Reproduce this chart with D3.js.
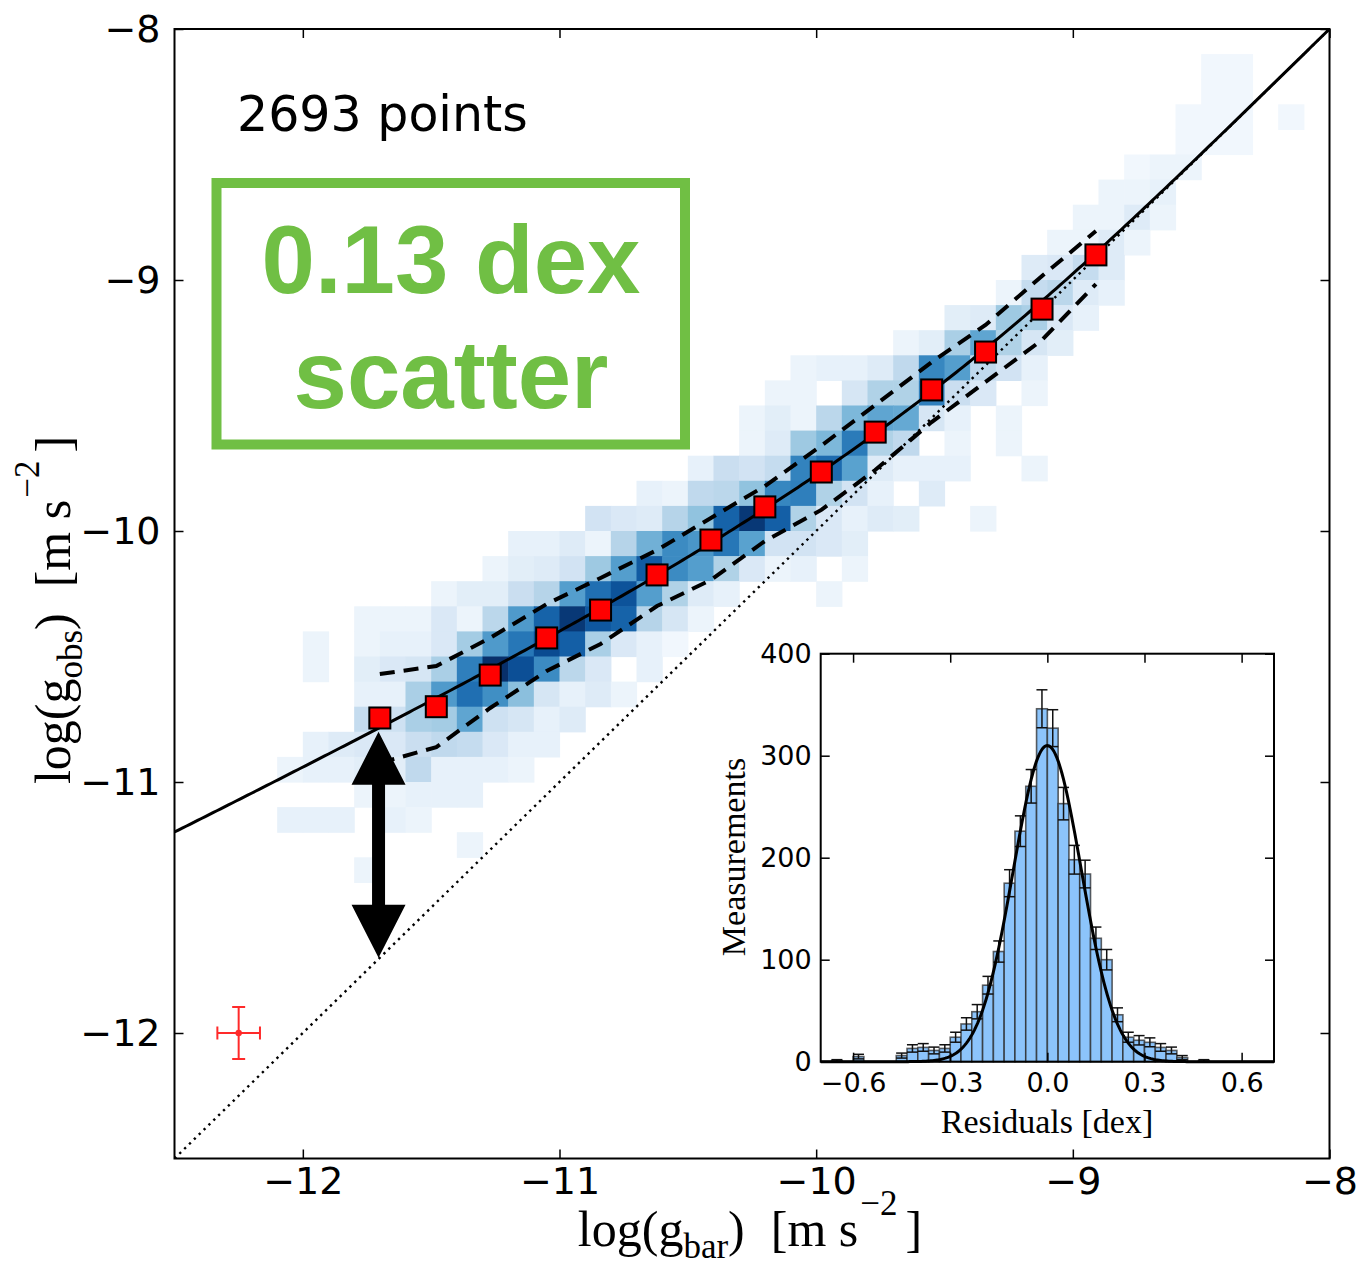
<!DOCTYPE html>
<html>
<head>
<meta charset="utf-8">
<script src="https://cdn.jsdelivr.net/npm/d3@7"></script>
<style>
  body { margin: 0; background: #fff; }
  svg text { font-family: "DejaVu Sans", sans-serif; }
  svg text.serif { font-family: "Liberation Serif", "DejaVu Serif", serif; }
</style>
</head>
<body>
<div id="chart"></div>
<script>
// ---- data ----
// 2D histogram, 0.1 dex bins: [lower y edge, left x edge of first cell, counts]
var heatRows = [
  [-8.2, -8.5, [1, 1]],
  [-8.3, -8.5, [1, 1]],
  [-8.4, -8.6, [1, 1, 1, 0, 1]],
  [-8.5, -8.6, [1, 1, 1]],
  [-8.6, -8.8, [1, 2, 2]],
  [-8.7, -8.9, [2, 2, 3]],
  [-8.8, -9.0, [2, 2, 5, 2]],
  [-8.9, -9.1, [2, 2, 5, 2]],
  [-9.0, -9.2, [5, 6, 11, 5]],
  [-9.1, -9.3, [2, 11, 13, 5, 3]],
  [-9.2, -9.5, [4, 5, 18, 16, 6, 3]],
  [-9.3, -9.7, [2, 4, 16, 28, 15, 7, 4]],
  [-9.4, -10.1, [2, 3, 3, 5, 12, 36, 30, 12, 8, 3]],
  [-9.5, -10.2, [2, 2, 0, 7, 15, 15, 38, 10, 6, 0, 2]],
  [-9.6, -10.3, [2, 4, 2, 13, 23, 28, 27, 7, 3, 0, 2]],
  [-9.7, -10.3, [2, 5, 18, 23, 39, 15, 12, 0, 2, 0, 2]],
  [-9.8, -10.5, [3, 10, 8, 11, 37, 43, 29, 5, 3, 3, 3, 0, 0, 2]],
  [-9.9, -10.7, [3, 2, 12, 13, 20, 36, 38, 15, 8, 3, 0, 5]],
  [-10.0, -10.9, [8, 6, 5, 14, 20, 45, 56, 46, 15, 6, 3, 5, 4, 0, 0, 2]],
  [-10.1, -11.2, [3, 3, 5, 2, 14, 25, 35, 32, 40, 29, 8, 8, 6, 4]],
  [-10.2, -11.3, [2, 4, 5, 8, 18, 30, 47, 35, 30, 15, 6, 2, 3, 0, 2]],
  [-10.3, -11.5, [2, 4, 4, 10, 14, 30, 42, 49, 30, 15, 5, 3, 0, 0, 0, 2]],
  [-10.4, -11.8, [2, 2, 2, 6, 2, 13, 31, 45, 56, 48, 45, 14, 7, 2]],
  [-10.5, -12.0, [2, 0, 2, 3, 3, 6, 17, 31, 40, 51, 46, 16, 6, 3, 1]],
  [-10.6, -12.0, [2, 0, 4, 6, 7, 16, 38, 58, 50, 35, 13, 6, 0, 3]],
  [-10.7, -11.8, [3, 3, 16, 31, 42, 34, 21, 7, 3, 5, 2]],
  [-10.8, -11.8, [11, 9, 16, 17, 28, 9, 7, 3, 5]],
  [-10.9, -12.0, [3, 5, 6, 6, 10, 12, 11, 6, 3, 3]],
  [-11.0, -12.1, [2, 3, 3, 4, 4, 12, 3, 3, 3, 2]],
  [-11.1, -11.8, [2, 2, 3, 3, 3]],
  [-11.2, -12.1, [3, 3, 3, 0, 3, 2]],
  [-11.3, -11.4, [2]],
  [-11.4, -11.8, [2]]
];
var heatBin = 0.1;

// binned means (red squares) and the +/- scatter band (dashed)
var binX     = [-11.70, -11.48, -11.27, -11.05, -10.84, -10.62, -10.41, -10.20, -9.98, -9.77, -9.55, -9.34, -9.12, -8.91];
var binMean  = [-10.745, -10.700, -10.574, -10.426, -10.315, -10.175, -10.036, -9.904, -9.765, -9.606, -9.438, -9.287, -9.116, -8.900];
var bandHigh = [-10.570, -10.538, -10.426, -10.291, -10.187, -10.076, -9.948, -9.821, -9.660, -9.498, -9.327, -9.179, -8.984, -8.805];
var bandLow  = [-10.924, -10.861, -10.705, -10.558, -10.450, -10.299, -10.195, -10.040, -9.916, -9.757, -9.566, -9.406, -9.239, -9.016];

// fitted relation g_obs = g_bar / (1 - exp(-sqrt(g_bar/g_dagger)))
var gDagger = 1.2e-10;
var oneToOne = [-12.5, -8];

// double arrow and typical error bar
var arrowX = -11.705, arrowTop = -10.80, arrowBottom = -11.70;
var errPoint = [-12.25, -12.0], errSize = [0.083, 0.104];

// residual histogram (inset)
var histStart = -0.7, histWidth = 1 / 30;
var histCounts = [0, 1, 0, 5, 0, 0, 0, 6, 13, 14, 11, 13, 24, 37, 49, 75, 108, 175, 226, 270, 346,
                  327, 253, 198, 184, 121, 100, 46, 24, 21, 19, 14, 11, 4, 0, 1, 0, 0, 0, 0, 0, 0];
var gaussAmp = 310, gaussMu = 0.0, gaussSigma = 0.105;

var mainTicks = [-12, -11, -10, -9, -8];
var insetXTicks = [-0.6, -0.3, 0.0, 0.3, 0.6];
var insetYTicks = [0, 100, 200, 300, 400];

// ---- drawing ----
var svg = d3.select("#chart").append("svg")
  .attr("width", 1364)
  .attr("height", 1278);

var x = d3.scaleLinear().domain([-12.5, -8]).range([174.5, 1329.5]);
var y = d3.scaleLinear().domain([-12.5, -8]).range([1158.5, 29]);

svg.append("clipPath").attr("id", "clip")
  .append("rect")
  .attr("x", x(-12.5)).attr("y", y(-8))
  .attr("width", x(-8) - x(-12.5)).attr("height", y(-12.5) - y(-8));

var plot = svg.append("g").attr("clip-path", "url(#clip)");

// heatmap cells
var cells = [];
heatRows.forEach(function (r) {
  r[2].forEach(function (n, i) {
    if (n > 0) cells.push({ x0: r[1] + heatBin * i, y0: r[0], n: n });
  });
});
var maxCount = d3.max(cells, function (d) { return d.n; });
var color = d3.scaleSequential(d3.interpolateBlues).domain([0, 1]);

plot.selectAll("rect.cell")
  .data(cells)
  .enter()
  .append("rect")
  .attr("class", "cell")
  .attr("x", function (d) { return x(d.x0); })
  .attr("y", function (d) { return y(d.y0 + heatBin); })
  .attr("width", function (d) { return x(d.x0 + heatBin) - x(d.x0) + 0.6; })
  .attr("height", function (d) { return y(d.y0) - y(d.y0 + heatBin) + 0.6; })
  .attr("fill", function (d) { return color(Math.pow(d.n / maxCount, 0.85)); });

// 1:1 line
plot.append("line")
  .attr("x1", x(oneToOne[0])).attr("y1", y(oneToOne[0]))
  .attr("x2", x(oneToOne[1])).attr("y2", y(oneToOne[1]))
  .attr("stroke", "#000")
  .attr("stroke-width", 2.4)
  .attr("stroke-dasharray", "2.4 4.4");

// fit line
var fitPts = d3.range(0, 301).map(function (i) {
  var lx = -12.5 + i * 4.5 / 300;
  var gb = Math.pow(10, lx);
  return [lx, Math.log10(gb / (1 - Math.exp(-Math.sqrt(gb / gDagger))))];
});
var line = d3.line()
  .x(function (d) { return x(d[0]); })
  .y(function (d) { return y(d[1]); });

plot.append("path")
  .datum(fitPts)
  .attr("d", line)
  .attr("fill", "none")
  .attr("stroke", "#000")
  .attr("stroke-width", 3);

// scatter band
[bandHigh, bandLow].forEach(function (band) {
  plot.append("path")
    .datum(binX.map(function (v, i) { return [v, band[i]]; }))
    .attr("d", line)
    .attr("fill", "none")
    .attr("stroke", "#000")
    .attr("stroke-width", 4)
    .attr("stroke-dasharray", "15 9");
});

// binned means
plot.selectAll("rect.mean")
  .data(binX)
  .enter()
  .append("rect")
  .attr("class", "mean")
  .attr("x", function (d) { return x(d) - 10.5; })
  .attr("y", function (d, i) { return y(binMean[i]) - 10.5; })
  .attr("width", 21)
  .attr("height", 21)
  .attr("fill", "#ff0000")
  .attr("stroke", "#000")
  .attr("stroke-width", 2);

// double headed arrow
var ax = x(arrowX), at = y(arrowTop), ab = y(arrowBottom);
var hh = 53, hw = 27, sw = 6.5;
plot.append("path")
  .attr("d", "M" + ax + "," + at +
    "L" + (ax + hw) + "," + (at + hh) + "L" + (ax + sw) + "," + (at + hh) +
    "L" + (ax + sw) + "," + (ab - hh) + "L" + (ax + hw) + "," + (ab - hh) +
    "L" + ax + "," + ab +
    "L" + (ax - hw) + "," + (ab - hh) + "L" + (ax - sw) + "," + (ab - hh) +
    "L" + (ax - sw) + "," + (at + hh) + "L" + (ax - hw) + "," + (at + hh) + "Z")
  .attr("fill", "#000");

// typical error bar
var ex = x(errPoint[0]), ey = y(errPoint[1]);
var exl = x(errPoint[0] - errSize[0]), exr = x(errPoint[0] + errSize[0]);
var eyt = y(errPoint[1] + errSize[1]), eyb = y(errPoint[1] - errSize[1]);
var errG = plot.append("g").attr("stroke", "#ff2a2a").attr("stroke-width", 2);
errG.append("line").attr("x1", exl).attr("x2", exr).attr("y1", ey).attr("y2", ey);
errG.append("line").attr("x1", ex).attr("x2", ex).attr("y1", eyt).attr("y2", eyb);
errG.append("line").attr("x1", exl).attr("x2", exl).attr("y1", ey - 6.5).attr("y2", ey + 6.5);
errG.append("line").attr("x1", exr).attr("x2", exr).attr("y1", ey - 6.5).attr("y2", ey + 6.5);
errG.append("line").attr("x1", ex - 6.5).attr("x2", ex + 6.5).attr("y1", eyt).attr("y2", eyt);
errG.append("line").attr("x1", ex - 6.5).attr("x2", ex + 6.5).attr("y1", eyb).attr("y2", eyb);
plot.append("circle").attr("cx", ex).attr("cy", ey).attr("r", 3.2).attr("fill", "#ff2a2a");

// annotations
svg.append("text")
  .attr("x", 237)
  .attr("y", 131)
  .attr("font-size", 49)
  .attr("fill", "#000")
  .text("2693 points");

svg.append("rect")
  .attr("x", 216.5).attr("y", 183)
  .attr("width", 468.5).attr("height", 261.5)
  .attr("fill", "none")
  .attr("stroke", "#70bf44")
  .attr("stroke-width", 10);

["0.13 dex", "scatter"].forEach(function (t, i) {
  svg.append("text")
    .attr("x", 451)
    .attr("y", i === 0 ? 293 : 408)
    .attr("text-anchor", "middle")
    .style("font-family", "'Liberation Sans', Arial, sans-serif")
    .attr("font-weight", "bold")
    .attr("font-size", 96)
    .attr("fill", "#70bf44")
    .text(t);
});

// frame and axes
svg.append("rect")
  .attr("x", x(-12.5)).attr("y", y(-8))
  .attr("width", x(-8) - x(-12.5)).attr("height", y(-12.5) - y(-8))
  .attr("fill", "none")
  .attr("stroke", "#000")
  .attr("stroke-width", 2);

function styleAxis(g, size) {
  g.attr("font-family", "'DejaVu Sans', sans-serif").attr("font-size", size);
  g.select(".domain").remove();
  g.selectAll(".tick line").attr("stroke", "#000").attr("stroke-width", 1.5);
  g.selectAll(".tick text").attr("fill", "#000");
}
var noLabel = function () { return ""; };

svg.append("g")
  .attr("transform", "translate(0," + y(-12.5) + ")")
  .call(d3.axisBottom(x).tickValues(mainTicks).tickSize(-9).tickPadding(9).tickFormat(d3.format("d")))
  .call(styleAxis, 38);
svg.append("g")
  .attr("transform", "translate(0," + y(-8) + ")")
  .call(d3.axisTop(x).tickValues(mainTicks).tickSize(-9).tickFormat(noLabel))
  .call(styleAxis, 38);
svg.append("g")
  .attr("transform", "translate(" + x(-12.5) + ",0)")
  .call(d3.axisLeft(y).tickValues(mainTicks).tickSize(-9).tickPadding(14).tickFormat(d3.format("d")))
  .call(styleAxis, 38);
svg.append("g")
  .attr("transform", "translate(" + x(-8) + ",0)")
  .call(d3.axisRight(y).tickValues(mainTicks).tickSize(-9).tickFormat(noLabel))
  .call(styleAxis, 38);

// axis titles: main part, superscript and closing bracket as separate texts
function unitLabel(g, sub) {
  var t = g.append("text").attr("class", "serif").attr("font-size", 50).attr("x", 0).attr("y", 0);
  t.append("tspan").text("log(g");
  t.append("tspan").attr("font-size", 35).attr("dy", 12).text(sub);
  t.append("tspan").attr("dy", -12).text(")");
  t.append("tspan").attr("dx", 26).text("[m s");
  var b = t.node().getBBox();
  var sup = g.append("text").attr("class", "serif").attr("font-size", 35)
    .attr("x", b.x + b.width + 2).attr("y", -31).text("\u22122");
  var bs = sup.node().getBBox();
  var cl = g.append("text").attr("class", "serif").attr("font-size", 50)
    .attr("x", bs.x + bs.width + 8).attr("y", 0).text("]");
  var bc = cl.node().getBBox();
  return bc.x + bc.width;
}
var xl = svg.append("g");
var xw = unitLabel(xl, "bar");
xl.attr("transform", "translate(" + (750 - xw / 2) + ",1246)");
var yl = svg.append("g");
var yw = unitLabel(yl, "obs");
yl.attr("transform", "translate(70,610) rotate(-90) translate(" + (-yw / 2) + ",0)");

// ---- inset histogram ----
var xi = d3.scaleLinear().domain([-0.7, 0.7]).range([820.7, 1274]);
var yi = d3.scaleLinear().domain([0, 400]).range([1061.7, 653.7]);
var inset = svg.append("g");

inset.append("rect")
  .attr("x", xi(-0.7)).attr("y", yi(400))
  .attr("width", xi(0.7) - xi(-0.7)).attr("height", yi(0) - yi(400))
  .attr("fill", "#fff");

var bars = histCounts.map(function (n, i) {
  return { x0: histStart + i * histWidth, x1: histStart + (i + 1) * histWidth, n: n };
}).filter(function (d) { return d.n > 0; });

inset.selectAll("rect.bar")
  .data(bars)
  .enter()
  .append("rect")
  .attr("class", "bar")
  .attr("x", function (d) { return xi(d.x0); })
  .attr("y", function (d) { return yi(d.n); })
  .attr("width", function (d) { return xi(d.x1) - xi(d.x0); })
  .attr("height", function (d) { return yi(0) - yi(d.n); })
  .attr("fill", "#8cc4fb")
  .attr("stroke", "#2b2b2b")
  .attr("stroke-opacity", 0.75)
  .attr("stroke-width", 1.6);

var eb = inset.selectAll("g.eb")
  .data(bars)
  .enter()
  .append("g")
  .attr("class", "eb")
  .attr("stroke", "#111")
  .attr("stroke-width", 1.5);
eb.append("line")
  .attr("x1", function (d) { return xi((d.x0 + d.x1) / 2); })
  .attr("x2", function (d) { return xi((d.x0 + d.x1) / 2); })
  .attr("y1", function (d) { return yi(d.n - Math.sqrt(d.n)); })
  .attr("y2", function (d) { return yi(d.n + Math.sqrt(d.n)); });
[-1, 1].forEach(function (s) {
  eb.append("line")
    .attr("x1", function (d) { return xi((d.x0 + d.x1) / 2) - 5.5; })
    .attr("x2", function (d) { return xi((d.x0 + d.x1) / 2) + 5.5; })
    .attr("y1", function (d) { return yi(d.n + s * Math.sqrt(d.n)); })
    .attr("y2", function (d) { return yi(d.n + s * Math.sqrt(d.n)); });
});

var gaussPts = d3.range(0, 281).map(function (i) {
  var r = -0.7 + i * 1.4 / 280;
  return [r, gaussAmp * Math.exp(-Math.pow(r - gaussMu, 2) / (2 * gaussSigma * gaussSigma))];
});
inset.append("path")
  .datum(gaussPts)
  .attr("d", d3.line().x(function (d) { return xi(d[0]); }).y(function (d) { return yi(d[1]); }))
  .attr("fill", "none")
  .attr("stroke", "#000")
  .attr("stroke-width", 3);

inset.append("rect")
  .attr("x", xi(-0.7)).attr("y", yi(400))
  .attr("width", xi(0.7) - xi(-0.7)).attr("height", yi(0) - yi(400))
  .attr("fill", "none")
  .attr("stroke", "#000")
  .attr("stroke-width", 2);

inset.append("g")
  .attr("transform", "translate(0," + yi(0) + ")")
  .call(d3.axisBottom(xi).tickValues(insetXTicks).tickSize(-9).tickPadding(11).tickFormat(d3.format(".1f")))
  .call(styleAxis, 27);
inset.append("g")
  .attr("transform", "translate(0," + yi(400) + ")")
  .call(d3.axisTop(xi).tickValues(insetXTicks).tickSize(-9).tickFormat(noLabel))
  .call(styleAxis, 27);
inset.append("g")
  .attr("transform", "translate(" + xi(-0.7) + ",0)")
  .call(d3.axisLeft(yi).tickValues(insetYTicks).tickSize(-9).tickPadding(9).tickFormat(d3.format("d")))
  .call(styleAxis, 27);
inset.append("g")
  .attr("transform", "translate(" + xi(0.7) + ",0)")
  .call(d3.axisRight(yi).tickValues(insetYTicks).tickSize(-9).tickFormat(noLabel))
  .call(styleAxis, 27);

inset.append("text")
  .attr("class", "serif")
  .attr("x", 1047).attr("y", 1133)
  .attr("text-anchor", "middle")
  .attr("font-size", 34)
  .text("Residuals [dex]");
inset.append("text")
  .attr("class", "serif")
  .attr("transform", "translate(745,857) rotate(-90)")
  .attr("text-anchor", "middle")
  .attr("font-size", 34)
  .text("Measurements");
</script>
</body>
</html>
